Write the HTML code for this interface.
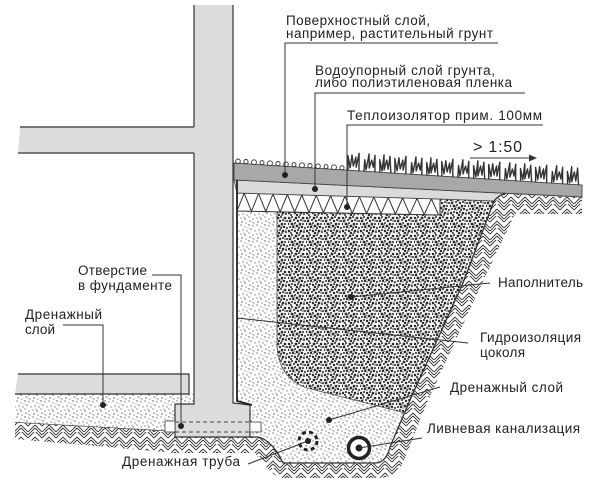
<!DOCTYPE html>
<html><head><meta charset="utf-8">
<style>
html,body{margin:0;padding:0;background:#fff;}
svg{display:block;}
text{font-family:"Liberation Sans","DejaVu Sans",sans-serif;fill:#222;font-size:13.5px;}
</style></head>
<body>
<svg width="600" height="500" viewBox="0 0 600 500" xmlns="http://www.w3.org/2000/svg">
<defs>
  <pattern id="sand" width="16" height="16" patternUnits="userSpaceOnUse">
    <rect width="16" height="16" fill="#fff"/>
    <g fill="#555">
      <circle cx="1" cy="1" r="0.65"/><circle cx="5" cy="3" r="0.6"/><circle cx="9" cy="1" r="0.7"/><circle cx="13" cy="2" r="0.6"/>
      <circle cx="3" cy="6" r="0.65"/><circle cx="7" cy="7" r="0.6"/><circle cx="11" cy="5" r="0.7"/><circle cx="15" cy="7" r="0.6"/>
      <circle cx="1" cy="10" r="0.6"/><circle cx="5" cy="11" r="0.7"/><circle cx="9" cy="9" r="0.6"/><circle cx="13" cy="11" r="0.65"/>
      <circle cx="2" cy="14" r="0.7"/><circle cx="6" cy="15" r="0.6"/><circle cx="10" cy="13" r="0.65"/><circle cx="14" cy="15" r="0.6"/>
      <circle cx="8" cy="4" r="0.5"/><circle cx="12" cy="14" r="0.5"/><circle cx="4" cy="9" r="0.5"/>
    </g>
  </pattern>
  <pattern id="coarse" width="18" height="18" patternUnits="userSpaceOnUse">
    <rect width="18" height="18" fill="#f4f4f4"/>
    <g fill="#2a2a2a">
      <circle cx="1" cy="2" r="1.2"/><circle cx="4" cy="1" r="1"/><circle cx="8" cy="2" r="1.4"/><circle cx="11" cy="1" r="1"/><circle cx="15" cy="2" r="1.3"/>
      <circle cx="17" cy="5" r="1"/><circle cx="2" cy="5" r="1.3"/><circle cx="6" cy="4" r="1"/><circle cx="10" cy="5" r="1.2"/><circle cx="13" cy="4" r="1"/>
      <circle cx="0" cy="8" r="1.2"/><circle cx="4" cy="8" r="1.4"/><circle cx="7" cy="7" r="1"/><circle cx="12" cy="8" r="1.3"/><circle cx="15" cy="8" r="1"/>
      <circle cx="2" cy="11" r="1"/><circle cx="5" cy="11" r="1.2"/><circle cx="9" cy="10" r="1.4"/><circle cx="11" cy="12" r="1"/><circle cx="14" cy="11" r="1.2"/>
      <circle cx="17" cy="12" r="1"/><circle cx="1" cy="15" r="1.3"/><circle cx="4" cy="14" r="1"/><circle cx="7" cy="15" r="1.2"/><circle cx="10" cy="14" r="1"/>
      <circle cx="13" cy="15" r="1.3"/><circle cx="16" cy="16" r="1"/><circle cx="3" cy="17" r="1"/><circle cx="9" cy="17" r="1.2"/><circle cx="12" cy="17" r="0.9"/>
    </g>
    <g fill="#888">
      <circle cx="6" cy="9" r="1"/><circle cx="15" cy="5" r="1"/><circle cx="3" cy="3" r="0.9"/><circle cx="12" cy="10" r="0.9"/><circle cx="7" cy="12" r="0.9"/><circle cx="16" cy="14" r="0.9"/>
    </g>
  </pattern>
  <pattern id="hatch" width="14" height="12" patternUnits="userSpaceOnUse">
    <rect width="14" height="12" fill="#fff"/>
    <path d="M0,12 L7,5 M3,12 L7,8 M7,5 L14,12 M7,8 L11,12 M0,6 L7,-1 M7,-1 L14,6 M0,3 L3,0 M14,3 L11,0" stroke="#333" stroke-width="0.9" fill="none"/>
  </pattern>
</defs>

<!-- ground hatch -->
<path d="M15,422 L175,431 L175,437 L258,437 Q272,440 283,463 L375,463 Q386,463 390,447 L410,400 L463,283 L494,201 L505,193 L582,197 L582,214 L515,214 L478,292 L426,405 L405,458 Q398,478 378,478 L280,478 Q268,472 255,453 L175,453 L15,439 Z" fill="url(#hatch)"/>

<!-- trench sand -->
<path d="M237,193 L440,199 L500,200 L494,201 L463,283 L410,400 L390,447 Q386,463 375,463 L283,463 Q272,440 258,437 L250,437 L250,405 L237,401 Z" fill="url(#sand)"/>

<!-- coarse fill -->
<path d="M277,212 L440,215 L440,199 L494,201 L463,283 L410,400 L405,413 L307,388 Q278,378 277,345 Z" fill="url(#coarse)" stroke="#555" stroke-width="0.8"/>

<!-- insulation layer -->
<path d="M237,193 L440,199 L440,215 L237,211 Z" fill="#fff" stroke="#333" stroke-width="1"/>
<polyline points="237,211 244.2,193.2 251.4,211.3 258.6,193.6 265.8,211.6 273,194.1 280.2,211.9 287.4,194.5 294.6,212.1 301.8,194.9 309,212.4 316.2,195.3 323.4,212.7 330.6,195.8 337.8,213 345,196.2 352.2,213.3 359.4,196.6 366.6,213.6 373.8,197 381,213.8 388.2,197.5 395.4,214.1 402.6,197.9 409.8,214.4 417,198.3 424.2,214.7 431.4,198.8 438.6,215" fill="none" stroke="#333" stroke-width="1"/>

<!-- light band -->
<path d="M234,180 L505,193.3 Q497,196 494,201 L440,199 L237,193 Z" fill="#dadada" stroke="#444" stroke-width="0.8"/>
<!-- dark surface band -->
<path d="M234,163 L582,185 L582,197 L234,180 Z" fill="#a8a8a8" stroke="#444" stroke-width="0.9"/>

<!-- trench ground line -->
<path d="M250,437 L258,437 Q272,440 283,463 L375,463 Q386,463 390,447 L410,400 L463,283 L494,201 Q498,196 505,193.3" fill="none" stroke="#333" stroke-width="1.3"/>
<path d="M15,422 L175,431" fill="none" stroke="#333" stroke-width="1.2"/>

<!-- pebbles -->
<g fill="#fff" stroke="#333" stroke-width="0.9">
  <circle cx="238" cy="161.3" r="2.3"/><circle cx="246" cy="161.6" r="2.1"/><circle cx="254" cy="162.2" r="2.4"/><circle cx="262" cy="162.6" r="2"/>
  <circle cx="270" cy="163.2" r="2.4"/><circle cx="278" cy="163.6" r="2.1"/><circle cx="286" cy="164.2" r="2.3"/><circle cx="294" cy="164.6" r="2"/>
  <circle cx="302" cy="165.2" r="2.4"/><circle cx="310" cy="165.6" r="2.1"/><circle cx="318" cy="166.2" r="2.3"/><circle cx="326" cy="166.6" r="2"/>
  <circle cx="334" cy="167.2" r="2.4"/><circle cx="342" cy="167.8" r="2.1"/>
</g>
<!-- grass -->
<g transform="translate(348,170.7) rotate(3.6)">
<path d="M0,0 l-1,-15 l3,12 l1,-13 l2,11 l2,-9 l1,10 l2,-14 l1,18 m5,0 l0,-12 l2,10 l2,-16 l1,14 l2,-8 l2,7 l1,-12 l1,17 m5,0 l-1,-13 l3,11 l1,-16 l1,15 l2,-10 l2,9 l1,-13 l2,17 m4,0 l-1,-15 l3,12 l1,-13 l2,11 l2,-9 l1,10 l2,-14 l1,18 m5,0 l0,-12 l2,10 l2,-16 l1,14 l2,-8 l2,7 l1,-12 l1,17 m5,0 l-1,-13 l3,11 l1,-16 l1,15 l2,-10 l2,9 l1,-13 l2,17 m4,0 l-1,-15 l3,12 l1,-13 l2,11 l2,-9 l1,10 l2,-14 l1,18 m5,0 l0,-12 l2,10 l2,-16 l1,14 l2,-8 l2,7 l1,-12 l1,17 m5,0 l-1,-13 l3,11 l1,-16 l1,15 l2,-10 l2,9 l1,-13 l2,17 m4,0 l-1,-15 l3,12 l1,-13 l2,11 l2,-9 l1,10 l2,-14 l1,18 m5,0 l0,-12 l2,10 l2,-16 l1,14 l2,-8 l2,7 l1,-12 l1,17 m5,0 l-1,-13 l3,11 l1,-16 l1,15 l2,-10 l2,9 l1,-13 l2,17 m4,0 l-1,-15 l3,12 l1,-13 l2,11 l2,-9 l1,10 l2,-14 l1,18 m5,0 l0,-12 l2,10 l2,-16 l1,14 l2,-8 l2,7 l1,-12 l1,17 m5,0 l-1,-13 l3,11 l1,-16 l1,15 l2,-10 l2,9 l1,-13 l2,17" fill="none" stroke="#333" stroke-width="1.4" stroke-linejoin="round"/>
</g>

<!-- basement sand -->
<path d="M15,394 L194,394 L194,404 L175,404 L175,431 L15,422 Z" fill="url(#sand)"/>

<!-- wall + footing -->
<path d="M194,5 L233,5 L233,403 L250,405 L250,437 L175,437 L175,404 L194,404 Z" fill="#dcdcdc"/>
<g stroke="#333" stroke-width="1.2" fill="none">
  <path d="M194,5 L194,127 M194,153 L194,404 L175,404 L175,437 L250,437 L250,405"/>
  <path d="M233,5 L233,403 L250,405"/>
</g>
<!-- upper slab -->
<path d="M20,127 L194,127 L194,153 L18,153 Z" fill="#dcdcdc"/>
<path d="M20,127 L194,127 M18,153 L194,153" stroke="#333" stroke-width="1.2" fill="none"/>
<!-- lower slab -->
<path d="M18,374 L189,374 L189,394 L15,394 Z" fill="#dcdcdc"/>
<path d="M18,374 L189,374 L189,394 L15,394" stroke="#333" stroke-width="1.2" fill="none"/>

<!-- waterproofing line -->
<path d="M237,180 L237,401 L252,405" fill="none" stroke="#222" stroke-width="1.8"/>

<!-- pipe through foundation -->
<path d="M175,422 L250,422 M175,432 L250,432" stroke="#444" stroke-width="1" stroke-dasharray="4 3" fill="none"/>
<rect x="165" y="421" width="10" height="11" fill="#fff" stroke="#555" stroke-width="0.9"/>
<rect x="250" y="422" width="11" height="10" fill="#fff" stroke="#555" stroke-width="0.9"/>

<!-- drain pipe -->
<circle cx="308" cy="441" r="9" fill="none" stroke="#222" stroke-width="3" stroke-dasharray="4 3.2"/>
<circle cx="308" cy="441" r="3" fill="#222"/>
<!-- storm sewer -->
<circle cx="359" cy="448" r="10.5" fill="#fff" stroke="#222" stroke-width="3.5"/>
<circle cx="359" cy="448" r="3.5" fill="#222"/>

<!-- leaders -->
<g stroke="#333" stroke-width="1" fill="none">
  <path d="M498,43 L285,43 L285,175"/>
  <path d="M525,93 L315,93 L315,189"/>
  <path d="M543,125 L347,125 L347,207"/>
  <path d="M490,283 L351,297"/>
  <path d="M468,343 L237,318"/>
  <path d="M440,387 L329,420"/>
  <path d="M422,438 L359,448"/>
  <path d="M248,464 L308,441"/>
  <path d="M152,275 L181,275 L181,426"/>
  <path d="M63,325 L103,325 L103,405"/>
  <path d="M470,158 L530,158"/>
</g>
<polygon points="529,154.5 537,158 529,161.5" fill="#333"/>
<g fill="#222">
  <circle cx="285" cy="175" r="3"/>
  <circle cx="315" cy="189" r="3"/>
  <circle cx="347" cy="207" r="3"/>
  <circle cx="351" cy="297" r="3"/>
  <circle cx="329" cy="420" r="3"/>
  <circle cx="103" cy="405" r="3"/>
  <circle cx="181" cy="426" r="3"/>
</g>

<!-- labels -->
<text x="286" y="25" textLength="144">Поверхностный слой,</text>
<text x="286" y="38" textLength="207">например, растительный грунт</text>
<text x="315" y="75" textLength="180">Водоупорный слой грунта,</text>
<text x="315" y="87" textLength="197">либо полиэтиленовая пленка</text>
<text x="347" y="120" textLength="195">Теплоизолятор прим. 100мм</text>
<text x="473" y="152" textLength="49" style="font-size:16px">&gt; 1:50</text>
<text x="498" y="287" textLength="85">Наполнитель</text>
<text x="480" y="342" textLength="101">Гидроизоляция</text>
<text x="480" y="357" textLength="45">цоколя</text>
<text x="450" y="392" textLength="113">Дренажный слой</text>
<text x="427" y="433" textLength="153">Ливневая канализация</text>
<text x="78" y="275" textLength="69">Отверстие</text>
<text x="78" y="290" textLength="94">в фундаменте</text>
<text x="25" y="319" textLength="77">Дренажный</text>
<text x="25" y="334" textLength="30">слой</text>
<text x="122" y="466" textLength="118">Дренажная труба</text>
</svg>
</body></html>
